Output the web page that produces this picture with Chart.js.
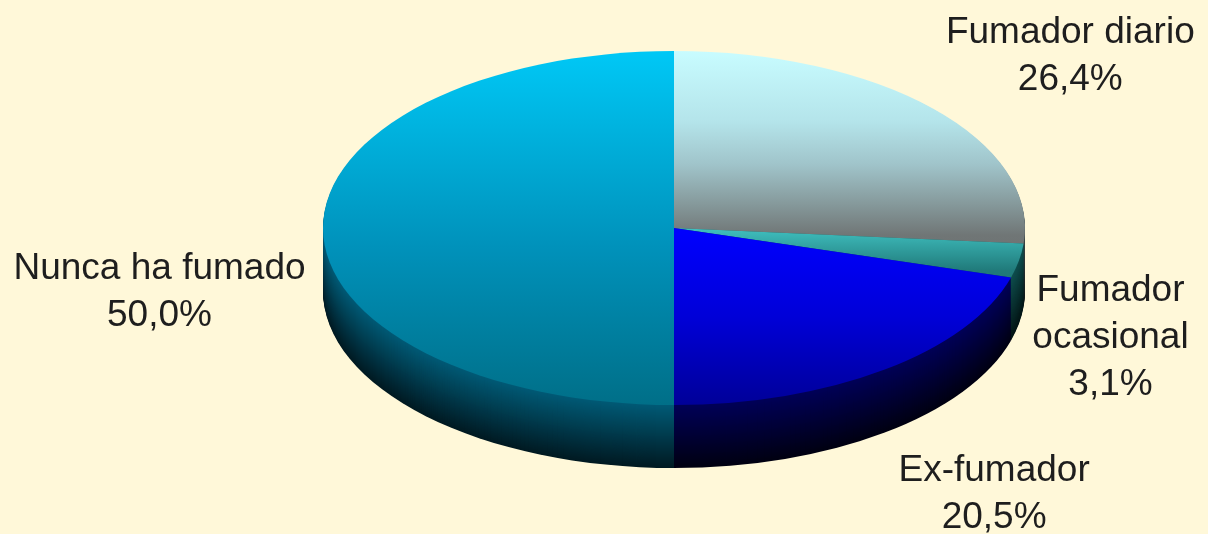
<!DOCTYPE html>
<html>
<head>
<meta charset="utf-8">
<script src="https://cdn.jsdelivr.net/npm/chart.js@4/dist/chart.umd.min.js"></script>
<style>
    html, body { margin: 0; padding: 0; background: #fff8d9; }
    #wrap { width: 1208px; height: 534px; position: relative; }
</style>
</head>
<body>
<div id="wrap"><canvas id="pie-chart"></canvas></div>
<script>
const categories = ['Fumador diario', 'Fumador\nocasional', 'Ex-fumador', 'Nunca ha fumado']
const values = [26.4, 3.1, 20.5, 50.0]

// top face gradients (vertical) and side wall colours, one per slice
const topStops = [
    [[0, '#c8fcff'], [0.2, '#b4e4ea'], [0.32, '#a0c4ca'], [0.43, '#869a9c'], [0.52, '#707676'], [1, '#5a5a5a']],
    [[0, '#60d8d8'], [0.5, '#40c0c0'], [0.62, '#207a7a'], [1, '#104040']],
    [[0, '#0000ff'], [0.5, '#0000ff'], [0.75, '#0000d8'], [1, '#000098']],
    [[0, '#00c8f6'], [0.55, '#0092bb'], [1, '#006f88']]
]
const sideTop = ['#3c4848', '#0e4e4e', '#000058', '#005a76']
const sideBottom = ['#101818', '#031414', '#000012', '#001a22']

const RX = 351
const RY = 177
const DEPTH = 63
const LINE = 47
const labelNudge = [[8, 8], [-81, 61], [4, 54], [12, 64]]

function hex(c) {
    return [1, 3, 5].map(i => parseInt(c.slice(i, i + 2), 16))
}
function mix(a, b, t) {
    const p = hex(a), q = hex(b)
    return 'rgb(' + p.map((v, i) => Math.round(v + (q[i] - v) * t)).join(',') + ')'
}

const pie3d = {
    id: 'pie3d',
    beforeDatasetsDraw(chart) {
        const ctx = chart.ctx
        const arcs = chart.getDatasetMeta(0).data
        // side wall: stacked ellipse sectors below the top face
        for (let d = DEPTH; d >= 1; d--) {
            arcs.forEach((arc, i) => {
                ctx.fillStyle = mix(sideTop[i], sideBottom[i], d / DEPTH)
                ctx.beginPath()
                ctx.moveTo(arc.x, arc.y + d)
                ctx.ellipse(arc.x, arc.y + d, RX, RY, 0, arc.startAngle, arc.endAngle)
                ctx.closePath()
                ctx.fill()
            })
        }
        // squash the real pie into the top face
        const { x, y, outerRadius } = arcs[0]
        ctx.save()
        ctx.translate(x, y)
        ctx.scale(RX / outerRadius, RY / outerRadius)
        ctx.translate(-x, -y)
    },
    afterDatasetsDraw(chart) {
        const ctx = chart.ctx
        ctx.restore()
        const arcs = chart.getDatasetMeta(0).data
        ctx.save()
        ctx.font = '37px "Liberation Sans", Arial, sans-serif'
        ctx.fillStyle = '#1e1e1e'
        ctx.textAlign = 'center'
        ctx.textBaseline = 'middle'
        arcs.forEach((arc, i) => {
            const mid = (arc.startAngle + arc.endAngle) / 2
            const ax = arc.x + 1.5 * RX * Math.cos(mid) + labelNudge[i][0]
            const ay = arc.y + 1.5 * RY * Math.sin(mid) + labelNudge[i][1]
            const lines = categories[i].split('\n')
            lines.push(values[i].toFixed(1).replace('.', ',') + '%')
            lines.forEach((t, k) => {
                ctx.fillText(t, ax, ay + (k - (lines.length - 1) / 2) * LINE)
            })
        })
        ctx.restore()
    }
}

new Chart(document.getElementById('pie-chart').getContext('2d'), {
    type: 'pie',
    data: {
        labels: categories.map(c => c.replace('\n', ' ')),
        datasets: [{
            data: values,
            borderWidth: 0,
            backgroundColor: (c) => {
                const area = c.chart.chartArea
                if (!area) return topStops[c.dataIndex][0][1]
                const cy = (area.top + area.bottom) / 2
                const r = Math.min(area.width, area.height) / 2
                const g = c.chart.ctx.createLinearGradient(0, cy - r, 0, cy + r)
                topStops[c.dataIndex].forEach(([o, col]) => g.addColorStop(o, col))
                return g
            }
        }]
    },
    options: {
        responsive: true,
        maintainAspectRatio: false,
        animation: false,
        layout: { padding: { left: 140, bottom: 78 } },
        plugins: {
            legend: { display: false },
            tooltip: { enabled: false }
        }
    },
    plugins: [pie3d]
})
</script>
</body>
</html>
